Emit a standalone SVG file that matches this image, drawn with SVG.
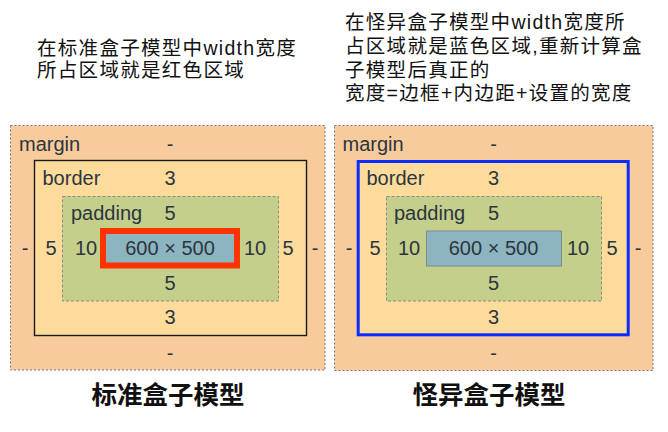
<svg xmlns="http://www.w3.org/2000/svg" width="668" height="432" viewBox="0 0 668 432">
  <style>
    .note { font-family: "Liberation Sans", "Noto Sans CJK SC", sans-serif; font-size: 19.5px; letter-spacing: 1.3px; fill: #111; }
    .title { font-family: "Noto Sans CJK SC", sans-serif; font-size: 25.5px; font-weight: bold; fill: #111; text-anchor: middle; }
    .lbl { font-family: "Liberation Sans", Arial, sans-serif; font-size: 20px; fill: #2c3540; }
    .c { text-anchor: middle; }
    .margin { fill: #f8cb9c; stroke: #7a7a7a; stroke-width: 1; stroke-dasharray: 2 2; }
    .border { fill: #fddc9b; }
    .padding { fill: #c4cf8b; stroke: #8a8a8a; stroke-width: 1; stroke-dasharray: 3 2; }
    .content { fill: #8cb5c0; }
  </style>

  <!-- explanatory notes -->
  <g id="note-standard">
    <text class="note" x="37" y="55">在标准盒子模型中width宽度</text>
    <text class="note" x="37" y="77">所占区域就是红色区域</text>
  </g>
  <g id="note-quirks">
    <text class="note" x="345" y="29">在怪异盒子模型中width宽度所</text>
    <text class="note" x="345" y="53">占区域就是蓝色区域,重新计算盒</text>
    <text class="note" x="345" y="77">子模型后真正的</text>
    <text class="note" x="345" y="100">宽度=边框+内边距+设置的宽度</text>
  </g>

  <!-- standard box model -->
  <g id="standard-model">
    <rect class="margin" x="10.5" y="125.5" width="314.5" height="244.5"/>
    <rect class="border" x="34.5" y="160.5" width="272" height="175" stroke="#1a1a1a" stroke-width="1.4"/>
    <rect class="padding" x="62.5" y="196.5" width="216" height="104.5"/>
    <rect class="content" x="103" y="231" width="134" height="34.5" stroke="#ff3300" stroke-width="6"/>
    <text class="lbl" x="19" y="150.5">margin</text>
    <text class="lbl c" x="170" y="150.5">-</text>
    <text class="lbl" x="42.5" y="185">border</text>
    <text class="lbl c" x="170" y="185">3</text>
    <text class="lbl" x="71" y="220">padding</text>
    <text class="lbl c" x="170" y="220">5</text>
    <text class="lbl c" x="25" y="255">-</text>
    <text class="lbl c" x="51" y="255">5</text>
    <text class="lbl c" x="86" y="255">10</text>
    <text class="lbl c" x="170" y="255">600 × 500</text>
    <text class="lbl c" x="255" y="255">10</text>
    <text class="lbl c" x="288" y="255">5</text>
    <text class="lbl c" x="315" y="255">-</text>
    <text class="lbl c" x="170" y="290">5</text>
    <text class="lbl c" x="170" y="324">3</text>
    <text class="lbl c" x="170" y="360">-</text>
    <text class="title" x="168" y="404">标准盒子模型</text>
  </g>

  <!-- quirks (border-box) model -->
  <g id="quirks-model">
    <rect class="margin" x="334.5" y="125.5" width="318.5" height="245"/>
    <rect class="border" x="358.2" y="161.5" width="270" height="173.3" stroke="#0a2cff" stroke-width="3"/>
    <rect class="padding" x="386.5" y="196.5" width="215" height="104.5"/>
    <rect class="content" x="426.5" y="231" width="135" height="35" stroke="#7d8a8e" stroke-width="1"/>
    <text class="lbl" x="342.5" y="150.5">margin</text>
    <text class="lbl c" x="493.5" y="150.5">-</text>
    <text class="lbl" x="366.5" y="185">border</text>
    <text class="lbl c" x="493.5" y="185">3</text>
    <text class="lbl" x="394" y="220">padding</text>
    <text class="lbl c" x="493.5" y="220">5</text>
    <text class="lbl c" x="349" y="255">-</text>
    <text class="lbl c" x="375" y="255">5</text>
    <text class="lbl c" x="409" y="255">10</text>
    <text class="lbl c" x="493.5" y="255">600 × 500</text>
    <text class="lbl c" x="578" y="255">10</text>
    <text class="lbl c" x="612" y="255">5</text>
    <text class="lbl c" x="638" y="255">-</text>
    <text class="lbl c" x="493.5" y="290">5</text>
    <text class="lbl c" x="493.5" y="324">3</text>
    <text class="lbl c" x="493.5" y="360">-</text>
    <text class="title" x="489" y="404">怪异盒子模型</text>
  </g>
</svg>
